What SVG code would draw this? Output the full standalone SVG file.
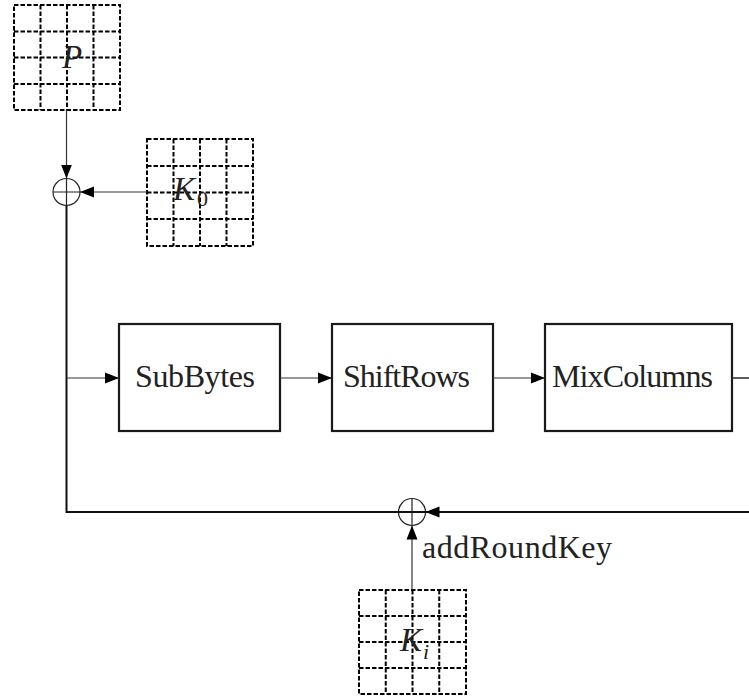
<svg xmlns="http://www.w3.org/2000/svg" width="749" height="700" viewBox="0 0 749 700">
<style>
.grid{fill:none;stroke:#000;stroke-width:2;stroke-dasharray:4.5 2}
.box{fill:#fff;stroke:#1a1a1a;stroke-width:2.2}
.thin{fill:none;stroke:#333;stroke-width:1.2}
.thick{fill:none;stroke:#111;stroke-width:2}
.xor{fill:none;stroke:#222;stroke-width:1.2}
.lbl{font-family:"Liberation Serif","Times New Roman",serif;font-size:32px;fill:#222}
.math{font-family:"Liberation Serif","Times New Roman",serif;font-style:italic;font-size:33px;fill:#222}
.sub{font-family:"Liberation Serif","Times New Roman",serif;font-size:22px;fill:#222}
</style>
<defs>
<marker id="ah" markerUnits="userSpaceOnUse" markerWidth="16" markerHeight="12" refX="14" refY="6" orient="auto">
<path d="M0,0.5 L14,6 L0,11.5 Z" fill="#000"/>
</marker>
</defs>

<g id="P">
<path class="grid" d="M14,5H120V110H14Z M14,31.5H120 M14,57.5H120 M14,84H120 M40.5,5V110 M67,5V110 M93.5,5V110"/>
<text class="math" x="62" y="68">P</text>
</g>

<g id="K0">
<path class="grid" d="M147,139H253V246H147Z M147,166H253 M147,192.5H253 M147,219H253 M173.5,139V246 M200,139V246 M226.5,139V246"/>
<text class="math" x="173" y="200">K</text>
<text class="sub" x="197" y="206">0</text>
</g>

<g id="Ki">
<path class="grid" d="M359,590H466V694H359Z M359,616H466 M359,642H466 M359,668H466 M385.75,590V694 M412.5,590V694 M439.25,590V694"/>
<text class="math" x="400" y="651">K</text>
<text class="sub" x="423" y="659" font-style="italic">i</text>
</g>

<g id="xor1">
<circle class="xor" cx="66.5" cy="192" r="13.5"/>
<path class="xor" d="M53,192H80 M66.5,178.5V205.5"/>
</g>

<g id="xor2">
<circle class="xor" cx="412" cy="512" r="13.5"/>
<path class="xor" d="M412,498.5V525.5"/>
</g>

<g id="SubBytes">
<rect class="box" x="119" y="324" width="161" height="107"/>
<text class="lbl" x="135" y="387" textLength="120">SubBytes</text>
</g>

<g id="ShiftRows">
<rect class="box" x="332" y="324" width="161" height="107"/>
<text class="lbl" x="343" y="387" textLength="127">ShiftRows</text>
</g>

<g id="MixColumns">
<rect class="box" x="545" y="324" width="187" height="107"/>
<text class="lbl" x="552" y="387" textLength="161">MixColumns</text>
</g>

<g id="addRoundKey-label">
<text class="lbl" x="422" y="558" textLength="190">addRoundKey</text>
</g>

<g id="connectors">
<path class="thin" d="M66.5,110V178.5" marker-end="url(#ah)"/>
<path class="thin" d="M147,192H80" marker-end="url(#ah)"/>
<path class="thick" d="M66.5,205.5V512H749"/>
<path class="thick" d="M749,512H425.5" marker-end="url(#ah)"/>
<path class="thin" d="M66.5,378H119" marker-end="url(#ah)"/>
<path class="thin" d="M280,378H332" marker-end="url(#ah)"/>
<path class="thin" d="M493,378H545" marker-end="url(#ah)"/>
<path class="thin" d="M732,378H749" style="stroke-width:1.6"/>
<path class="thin" d="M412,590V525.5" marker-end="url(#ah)"/>
</g>
</svg>
